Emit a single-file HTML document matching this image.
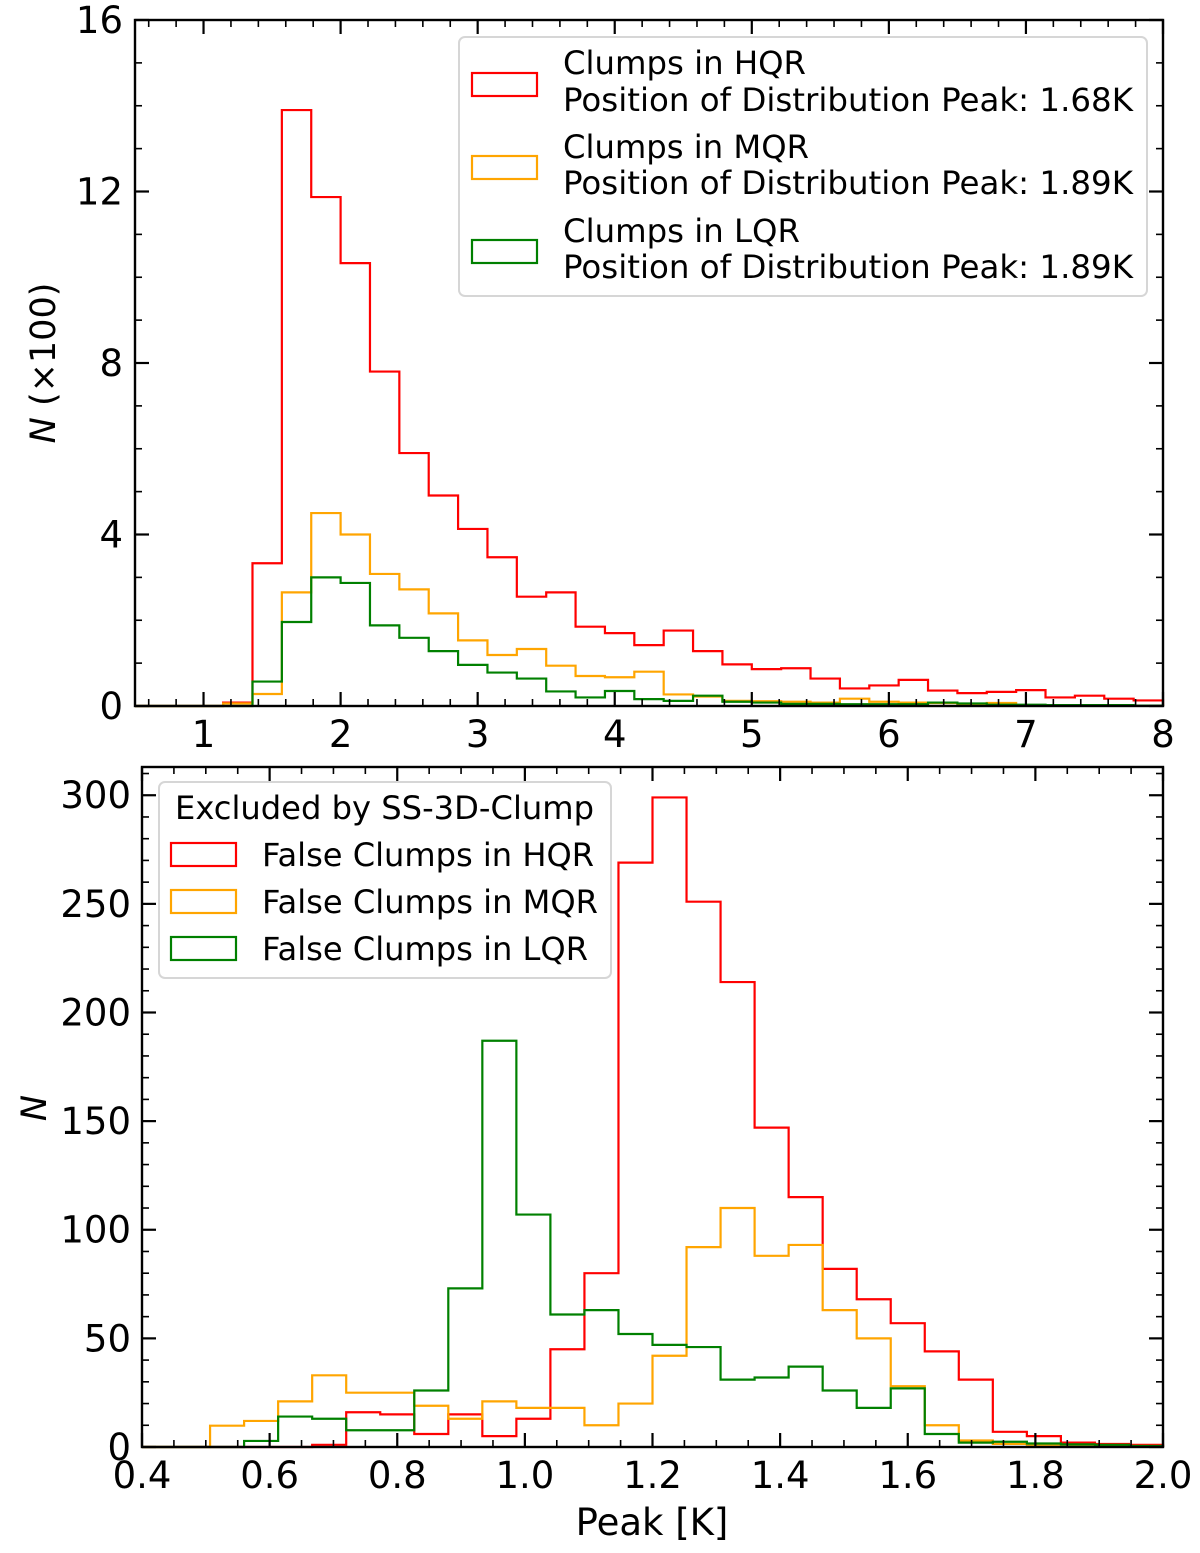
<!DOCTYPE html>
<html><head><meta charset="utf-8"><style>
html,body{margin:0;padding:0;background:#fff;}
svg text{font-family:"DejaVu Sans","Liberation Sans",sans-serif;fill:#000;}
</style></head><body>
<svg id="fig" width="1200" height="1548" viewBox="0 0 1200 1548" xmlns="http://www.w3.org/2000/svg">
<g id="top"></g>
<g id="bot"></g>
</svg>
<script>
// ---- top panel data (bins 0.5..8.0, 35 bins), values in units of 100 ----
const topBinStart = 0.5;
const topBinEnd = 8.0;
const topRed = [0,0,0,0.08,3.33,13.9,11.87,10.33,7.8,5.9,4.91,4.13,3.47,2.55,2.65,1.85,1.70,1.42,1.76,1.28,0.97,0.86,0.88,0.64,0.41,0.48,0.61,0.36,0.30,0.33,0.37,0.20,0.24,0.17,0.13];
const topOrange = [0,0,0,0.06,0.28,2.65,4.5,4.0,3.08,2.72,2.16,1.53,1.19,1.33,0.94,0.70,0.67,0.80,0.27,0.22,0.12,0.11,0.10,0.08,0.17,0.10,0.08,0.07,0.05,0.07,0.02,0.02,0.02,0.01,0.01];
const topGreen = [0,0,0,0,0.57,1.96,3.0,2.87,1.88,1.59,1.28,0.96,0.78,0.64,0.34,0.2,0.35,0.16,0.12,0.24,0.1,0.08,0.05,0.05,0.04,0.04,0.04,0.08,0.06,0.03,0.03,0.02,0.02,0.02,0.01];
const topXTicks = ["1","2","3","4","5","6","7","8"];
const topYTicks = ["0","4","8","12","16"];
// ---- bottom panel data (bins 0.4..2.0, 30 bins) ----
const botBinStart = 0.4;
const botBinEnd = 2.0;
const botRed = [0,0,0,0,0,1,16,15,6,15,5,13,45,80,269,299,251,214,147,115,82,68,57,44,31,7,5,2,1.4,1];
const botOrange = [0,0,9.8,12,21,33,25,25,19,13,21,18,18,10,20,42,92,110,88,93,63,50,28,10,3,1.4,1,1,0.5,0.5];
const botGreen = [0,0,0,2.8,14,13,7.7,7.7,26,73,187,107,61,63,52,47,46,31,32,37,26,18,27,6,2,2.4,1.6,1.2,1,0.5];
const botXTicks = ["0.4","0.6","0.8","1.0","1.2","1.4","1.6","1.8","2.0"];
const botYTicks = ["0","50","100","150","200","250","300"];

const NS="http://www.w3.org/2000/svg";
function mk(tag,attrs,parent){const e=document.createElementNS(NS,tag);for(const k in attrs)e.setAttribute(k,attrs[k]);parent.appendChild(e);return e;}

function panel(g,L,R,T,B,xmin,xmax,ymin,ymax,xMaj,xMinStep,yMaj,yMinStep,xTickLabels,yTickLabels,series,binStart,binEnd,yLabelRight){
  const sx=v=>L+(v-xmin)/(xmax-xmin)*(R-L);
  const sy=v=>B-(v-ymin)/(ymax-ymin)*(B-T);
  const cols=["#ff0000","#ffa500","#008000"];
  const names=["hqr","mqr","lqr"];
  series.forEach((vals,si)=>{
    const n=vals.length,w=(binEnd-binStart)/n;
    let d="M"+sx(binStart)+","+sy(0);
    vals.forEach((v,i)=>{d+=" L"+sx(binStart+i*w)+","+sy(v)+" L"+sx(binStart+(i+1)*w)+","+sy(v);});
    d+=" L"+sx(binEnd)+","+sy(0);
    const p=mk("path",{d:d,fill:"none",stroke:cols[si],"stroke-width":2.2},g);
    
    
  });
  const tg=mk("g",{stroke:"#000"},g);
  
  
  const eps=1e-9;
  for(let v=Math.ceil(xmin/xMinStep-eps)*xMinStep; v<=xmax+eps; v+=xMinStep){
    const isMaj=Math.abs(v/xMaj-Math.round(v/xMaj))<1e-6;
    const len=isMaj?14:7, x=sx(v);
    mk("line",{x1:x,y1:B,x2:x,y2:B-len,"stroke-width":isMaj?2.2:1.6},tg);
    mk("line",{x1:x,y1:T,x2:x,y2:T+len,"stroke-width":isMaj?2.2:1.6},tg);
  }
  for(let v=ymin; v<=ymax+eps; v+=yMinStep){
    const isMaj=Math.abs(v/yMaj-Math.round(v/yMaj))<1e-6;
    const len=isMaj?14:7, y=sy(v);
    mk("line",{x1:L,y1:y,x2:L+len,y2:y,"stroke-width":isMaj?2.2:1.6},tg);
    mk("line",{x1:R,y1:y,x2:R-len,y2:y,"stroke-width":isMaj?2.2:1.6},tg);
  }
  const fr=mk("rect",{x:L,y:T,width:R-L,height:B-T,fill:"none",stroke:"#000","stroke-width":2.4},g);
  
  
  xTickLabels.forEach(s=>{
    const t=mk("text",{x:sx(parseFloat(s)),y:B+41,"text-anchor":"middle","font-size":37},g);
    t.textContent=s;
    
    
  });
  yTickLabels.forEach(s=>{
    const t=mk("text",{x:yLabelRight,y:sy(parseFloat(s))+13,"text-anchor":"end","font-size":37},g);
    t.textContent=s;
    
    
  });
}
panel(document.getElementById('top'),135,1163,20,706,0.5,8,0,16,1,0.2,4,1,topXTicks,topYTicks,[topRed,topOrange,topGreen],topBinStart,topBinEnd,123);
panel(document.getElementById('bot'),142,1163,767,1447,0.4,2.0,0,313,0.2,0.05,50,10,botXTicks,botYTicks,[botRed,botOrange,botGreen],botBinStart,botBinEnd,131);
</script>
<svg style="position:absolute;left:0;top:0" width="1200" height="1548">
  <text transform="translate(55,363) rotate(-90)" text-anchor="middle" font-size="35" style="font-family:'DejaVu Sans',sans-serif"><tspan font-style="italic">N</tspan> (×100)</text>
  <text transform="translate(46,1108) rotate(-90)" text-anchor="middle" font-size="35" font-style="italic" style="font-family:'DejaVu Sans',sans-serif">N</text>
  <text x="652" y="1535" text-anchor="middle" font-size="37" style="font-family:'DejaVu Sans',sans-serif">Peak [K]</text>
  <g style="font-family:'DejaVu Sans',sans-serif" font-size="32">
    <rect x="459" y="37" width="688" height="259" rx="6" fill="#fff" fill-opacity="0.85" stroke="#d6d6d6" stroke-width="2"/>
    <rect x="472" y="73" width="65" height="23" fill="none" stroke="#ff0000" stroke-width="2.2"/>
    <text x="563" y="74" textLength="243" lengthAdjust="spacingAndGlyphs">Clumps in HQR</text>
    <text x="563" y="111" textLength="570" lengthAdjust="spacingAndGlyphs">Position of Distribution Peak: 1.68K</text>
    <rect x="472" y="156" width="65" height="23" fill="none" stroke="#ffa500" stroke-width="2.2"/>
    <text x="563" y="158" textLength="246" lengthAdjust="spacingAndGlyphs">Clumps in MQR</text>
    <text x="563" y="194" textLength="570" lengthAdjust="spacingAndGlyphs">Position of Distribution Peak: 1.89K</text>
    <rect x="472" y="240" width="65" height="23" fill="none" stroke="#008000" stroke-width="2.2"/>
    <text x="563" y="242" textLength="237" lengthAdjust="spacingAndGlyphs">Clumps in LQR</text>
    <text x="563" y="278" textLength="570" lengthAdjust="spacingAndGlyphs">Position of Distribution Peak: 1.89K</text>
  </g>
  <g style="font-family:'DejaVu Sans',sans-serif" font-size="32">
    <rect x="159" y="782" width="452" height="196" rx="6" fill="#fff" fill-opacity="0.85" stroke="#d6d6d6" stroke-width="2"/>
    <text x="175" y="819" textLength="419" lengthAdjust="spacingAndGlyphs">Excluded by SS-3D-Clump</text>
    <rect x="171" y="843" width="65" height="23" fill="none" stroke="#ff0000" stroke-width="2.2"/>
    <text x="262" y="866" textLength="332" lengthAdjust="spacingAndGlyphs">False Clumps in HQR</text>
    <rect x="171" y="890" width="65" height="23" fill="none" stroke="#ffa500" stroke-width="2.2"/>
    <text x="262" y="913" textLength="336" lengthAdjust="spacingAndGlyphs">False Clumps in MQR</text>
    <rect x="171" y="937" width="65" height="23" fill="none" stroke="#008000" stroke-width="2.2"/>
    <text x="262" y="960" textLength="326" lengthAdjust="spacingAndGlyphs">False Clumps in LQR</text>
  </g>
</svg>
</body></html>
